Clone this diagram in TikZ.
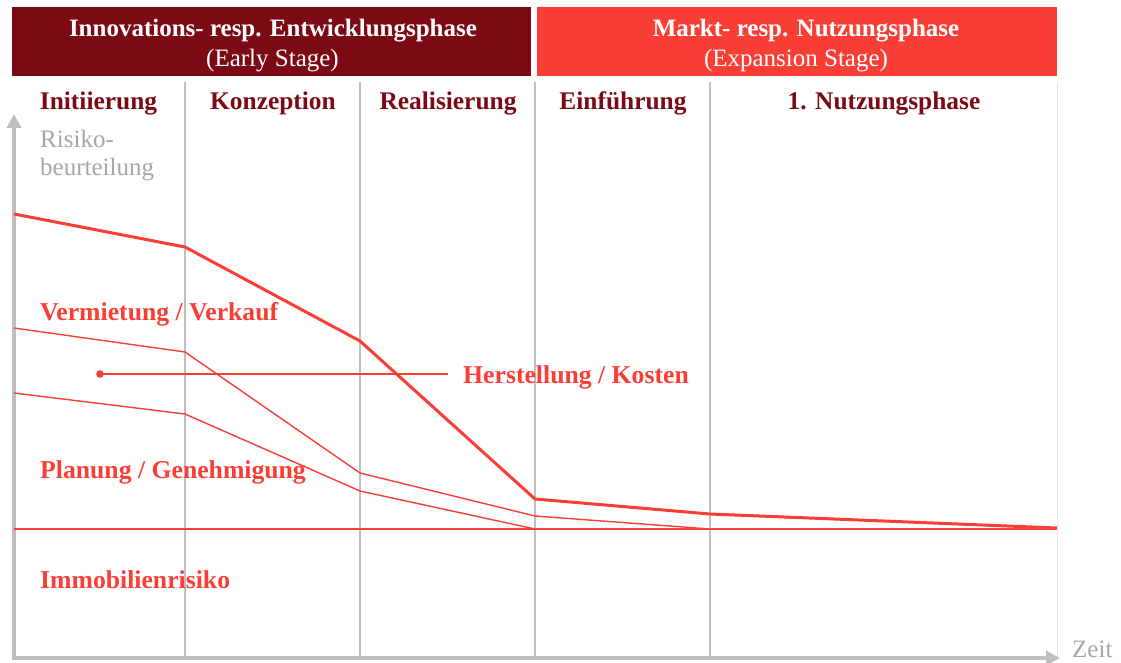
\documentclass[tikz,border=0pt]{standalone}
\usepackage{fontspec}
\setmainfont{Liberation Serif}
\usetikzlibrary{arrows.meta}
\definecolor{darkred}{HTML}{7B0A15}
\definecolor{brightred}{HTML}{F93E36}
\definecolor{axisgray}{HTML}{BFBFBF}
\definecolor{lightgray}{HTML}{E6E6E6}
\definecolor{labelgray}{HTML}{A6A6A6}
\tikzset{
  hdrbox/.style={fill=#1, inner sep=0pt, minimum width=519pt, minimum height=69pt},
  hdrtext/.style={text=white, inner sep=0pt, anchor=base, font=\fontsize{25}{30}\selectfont},
  phaselabel/.style={text=darkred, inner sep=0pt, anchor=base, font=\fontsize{25.4}{30}\selectfont\bfseries},
  risklabel/.style={text=brightred, inner sep=0pt, anchor=base west, font=\fontsize{25.7}{30}\selectfont\bfseries},
  graylabel/.style={text=labelgray, inner sep=0pt, anchor=base west, font=\fontsize{25}{28}\selectfont},
  vline/.style={draw=axisgray, line width=1.6pt},
  axisline/.style={draw=axisgray, line width=4pt, -{Triangle[length=14pt,width=14pt]}},
  thick curve/.style={draw=brightred, line width=3pt, line join=round},
  thin curve/.style={draw=brightred, line width=1.4pt, line join=round},
}
\begin{document}
\begin{tikzpicture}[x=1pt,y=-1pt]
\useasboundingbox (0,0) rectangle (1121,663);

% headers
\node[hdrbox=darkred] (h1) at (271.5,41.5) {};
\node[hdrbox=brightred, minimum width=520pt] (h2) at (797,41.5) {};
\node[hdrtext] (h1a) at (273,37) {\bfseries Innovations- resp. Entwicklungsphase};
\node[hdrtext] (h1b) at (272.5,67) {(Early Stage)};
\node[hdrtext] (h2a) at (806,37) {\bfseries Markt- resp. Nutzungsphase};
\node[hdrtext] (h2b) at (796,67) {(Expansion Stage)};

% grid lines
\draw[vline] (185,82) -- (185,657);
\draw[vline] (360,82) -- (360,657);
\draw[vline] (535,82) -- (535,657);
\draw[vline] (710,82) -- (710,657);
\draw[draw=lightgray, line width=1pt] (1057,82) -- (1057,657);

% phase labels
\node[phaselabel] (p1) at (98.5,110) {Initiierung};
\node[phaselabel] (p2) at (273,110) {Konzeption};
\node[phaselabel] (p3) at (448,110) {Realisierung};
\node[phaselabel] (p4) at (623,110) {Einführung};
\node[phaselabel] (p5) at (884,110) {1. Nutzungsphase};

% axes
\coordinate (origin) at (14,660);
\coordinate (ytip) at (14,114);
\coordinate (xorigin) at (12,658);
\coordinate (xtip) at (1060,658);
\draw[axisline] (origin) -- (ytip);
\draw[axisline] (xorigin) -- (xtip);
\node[graylabel] (zeit) at (1072,657) {Zeit};
\node[graylabel] (ylab1) at (40,148) {Risiko-};
\node[graylabel] (ylab2) at (40,176) {beurteilung};

% curves
\coordinate (a0) at (14,214);
\coordinate (a1) at (185,247);
\coordinate (a2) at (360,341);
\coordinate (a3) at (535,499);
\coordinate (a4) at (710,514);
\coordinate (a5) at (1057,528);
\draw[thick curve] (a0) -- (a1) -- (a2) -- (a3) -- (a4) -- (a5);

\coordinate (b0) at (14,328);
\coordinate (b1) at (185,352);
\coordinate (b2) at (360,473);
\coordinate (b3) at (535,516);
\coordinate (b4) at (710,529);
\draw[thin curve] (b0) -- (b1) -- (b2) -- (b3) -- (b4);

\coordinate (c0) at (14,393);
\coordinate (c1) at (185,414);
\coordinate (c2) at (360,491);
\coordinate (c3) at (535,529);
\draw[thin curve] (c0) -- (c1) -- (c2) -- (c3);

\coordinate (d0) at (14,529);
\coordinate (d1) at (1057,529);
\draw[thin curve] (d0) -- (d1);

% labels
\node[risklabel] (verm) at (40,320) {Vermietung / Verkauf};
\node[risklabel] (plan) at (40,478) {Planung / Genehmigung};
\node[risklabel] (immo) at (40,588) {Immobilienrisiko};
\node[risklabel] (herst) at (463,383) {Herstellung / Kosten};
\coordinate (dot) at (100,374);
\coordinate (hend) at (448,374);
\fill[brightred] (dot) circle (3.8pt);
\draw[thin curve, line width=1.8pt] (dot) -- (hend);
\end{tikzpicture}
\end{document}
